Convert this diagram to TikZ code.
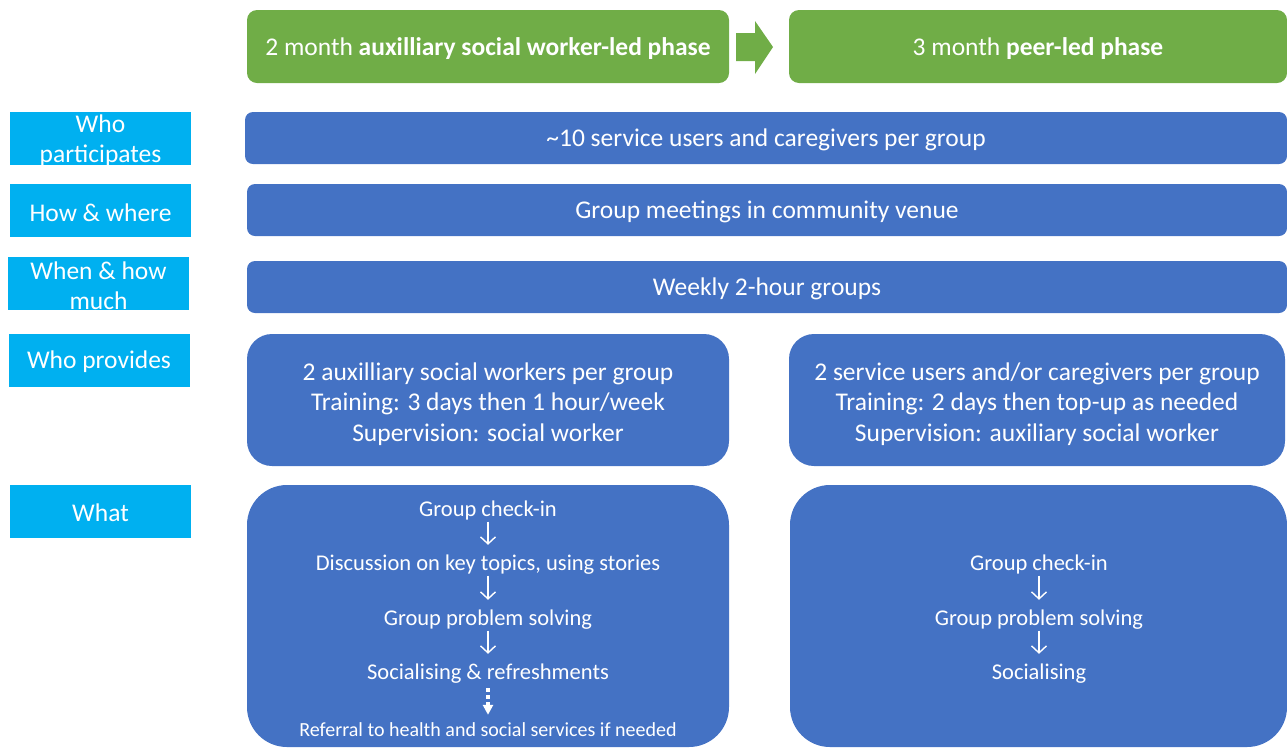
\documentclass[tikz,border=0pt]{standalone}
\usepackage{fontspec}
\setmainfont{Carlito}
\usetikzlibrary{arrows.meta}
\definecolor{pgreen}{HTML}{70AD47}
\definecolor{pblue}{HTML}{4472C4}
\definecolor{pcyan}{HTML}{00B0F0}
\tikzset{
  bigtxt/.style={font=\fontsize{25.5}{30.5}\selectfont, text=white, align=center, inner sep=0pt, yshift=-2pt},
  midtxt/.style={font=\fontsize{22.5}{27}\selectfont, text=white, align=center, inner sep=0pt, text height=16pt, text depth=5pt},
  smalltxt/.style={font=\fontsize{20}{24}\selectfont, text=white, align=center, inner sep=0pt, text height=14pt, text depth=4pt},
  flowarr/.style={white, line width=1.4pt, -{Straight Barb[length=7pt,width=15pt,line width=1.4pt]}, shorten >=9.5pt},
  dasharr/.style={white, line width=3.5pt, dash pattern=on 4pt off 3pt, -{Triangle[width=10pt,length=10pt]}, shorten <=3.5pt, shorten >=7pt},
  greenbox/.style={fill=pgreen, rounded corners=10pt, inner sep=0pt},
  bluebox/.style={fill=pblue, rounded corners=8pt, inner sep=0pt},
  labbox/.style={fill=pcyan, inner sep=0pt, minimum width=181pt, minimum height=53pt},
}
\begin{document}
\begin{tikzpicture}[x=1pt,y=-1pt]
\useasboundingbox (0,0) rectangle (1287,748);
% phases
\node[greenbox, minimum width=482pt, minimum height=73pt] (g1) at (488,46.5) {};
\node[bigtxt] at (g1) {2 month \textbf{auxilliary social worker-led phase}};
\node[greenbox, minimum width=498pt, minimum height=73pt] (g2) at (1038,46.5) {};
\node[bigtxt] at (g2) {3 month \textbf{peer-led phase}};
\fill[pgreen] (736,33) -- (755,33) -- (755,21) -- (773,47) -- (755,74) -- (755,61) -- (736,61) -- cycle;
% labels
\node[labbox] (l1) at (100.5,138.5) {};
\node[bigtxt] at (l1) {Who\\participates};
\node[labbox] (l2) at (100.5,210.5) {};
\node[bigtxt] at (l2) {How \& where};
\node[labbox] (l3) at (98.5,283.5) {};
\node[bigtxt] at (l3) {When \& how\\much};
\node[labbox] (l4) at (99,360) {};
\node[bigtxt] at (l4) {Who provides};
\node[labbox] (l5) at (100.5,511) {};
\node[bigtxt] at (l5) {What};
% rows
\node[bluebox, minimum width=1042pt, minimum height=52pt] (r1) at (766,138) {};
\node[bigtxt] at (r1) {\textasciitilde 10 service users and caregivers per group};
\node[bluebox, minimum width=1040pt, minimum height=52pt] (r2) at (767,210) {};
\node[bigtxt] at (r2) {Group meetings in community venue};
\node[bluebox, minimum width=1040pt, minimum height=52pt] (r3) at (767,287) {};
\node[bigtxt] at (r3) {Weekly 2-hour groups};
% who provides
\node[bluebox, rounded corners=25pt, minimum width=482pt, minimum height=132pt] (p1) at (488,400) {};
\node[bigtxt] at (488,402) {2 auxilliary social workers per group\\Training: 3 days then 1 hour/week\\Supervision: social worker};
\node[bluebox, rounded corners=25pt, minimum width=496pt, minimum height=132pt] (p2) at (1037,400) {};
\node[bigtxt] at (1037,402) {2 service users and/or caregivers per group\\Training: 2 days then top-up as needed\\Supervision: auxiliary social worker};
% what
\node[bluebox, rounded corners=40pt, minimum width=482pt, minimum height=262pt] (w1) at (488,616) {};
\node[bluebox, rounded corners=40pt, minimum width=497pt, minimum height=262pt] (w2) at (1038.5,616) {};
\node[midtxt] (a1) at (488,511) {Group check-in};
\node[midtxt] (a2) at (488,565) {Discussion on key topics, using stories};
\node[midtxt] (a3) at (488,620) {Group problem solving};
\node[midtxt] (a4) at (488,674) {Socialising \& refreshments};
\node[smalltxt] (a5) at (488,731) {Referral to health and social services if needed};
\draw[flowarr] (a1) -- (a2);
\draw[flowarr] (a2) -- (a3);
\draw[flowarr] (a3) -- (a4);
\draw[dasharr] (a4.south) -- (a5.north);
\node[midtxt] (b1) at (1039,565) {Group check-in};
\node[midtxt] (b2) at (1039,620) {Group problem solving};
\node[midtxt] (b3) at (1039,674) {Socialising};
\draw[flowarr] (b1) -- (b2);
\draw[flowarr] (b2) -- (b3);
\end{tikzpicture}
\end{document}
